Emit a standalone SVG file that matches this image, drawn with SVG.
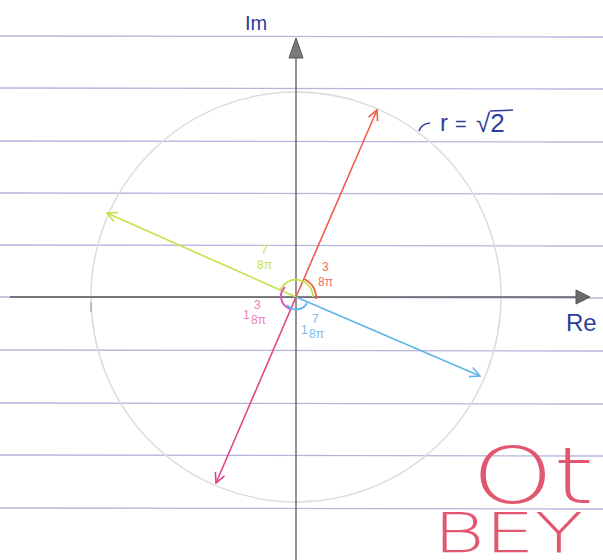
<svg xmlns="http://www.w3.org/2000/svg" width="603" height="560" viewBox="0 0 603 560">
<style>
.rule{stroke:#b3b6dc;stroke-width:1.3}
.axis{stroke:#5a5a5a;stroke-width:1.3;fill:none}
.hand{font-family:"Liberation Sans","DejaVu Sans",sans-serif}
.blue-ink{fill:#2d3f9c}
.lbl{font-family:"Liberation Sans",sans-serif;font-size:12px}
</style>
<defs>
<marker id="mr" viewBox="0 0 12 12" refX="11" refY="6" markerWidth="12" markerHeight="12" markerUnits="userSpaceOnUse" orient="auto"><path d="M1,1 L11,6 L1,11" fill="none" stroke="#f25a4c" stroke-width="1.6"/></marker>
<marker id="mg" viewBox="0 0 12 12" refX="11" refY="6" markerWidth="12" markerHeight="12" markerUnits="userSpaceOnUse" orient="auto"><path d="M1,1 L11,6 L1,11" fill="none" stroke="#c6e24a" stroke-width="1.6"/></marker>
<marker id="mb" viewBox="0 0 12 12" refX="11" refY="6" markerWidth="12" markerHeight="12" markerUnits="userSpaceOnUse" orient="auto"><path d="M1,1 L11,6 L1,11" fill="none" stroke="#5fb4e8" stroke-width="1.6"/></marker>
<marker id="mp" viewBox="0 0 12 12" refX="11" refY="6" markerWidth="12" markerHeight="12" markerUnits="userSpaceOnUse" orient="auto"><path d="M1,1 L11,6 L1,11" fill="none" stroke="#e2448a" stroke-width="1.6"/></marker>
</defs>
<rect width="603" height="560" fill="#ffffff"/>
<g id="ruled-lines">
<line class="rule" x1="0" y1="36" x2="603" y2="37"/>
<line class="rule" x1="0" y1="88" x2="603" y2="89"/>
<line class="rule" x1="0" y1="141" x2="603" y2="142"/>
<line class="rule" x1="0" y1="193" x2="603" y2="194"/>
<line class="rule" x1="0" y1="245" x2="603" y2="246"/>
<line class="rule" x1="0" y1="297" x2="603" y2="298"/>
<line class="rule" x1="0" y1="350" x2="603" y2="351"/>
<line class="rule" x1="0" y1="403" x2="603" y2="404"/>
<line class="rule" x1="0" y1="455" x2="603" y2="456"/>
<line class="rule" x1="0" y1="508" x2="603" y2="509"/>
</g>
<g id="circle">
<circle cx="296" cy="297" r="205" fill="none" stroke="#dcdcdc" stroke-width="1.5"/>
<line x1="91" y1="302" x2="91" y2="312" stroke="#999" stroke-width="1"/>
</g>
<g id="axes">
<line class="axis" x1="10" y1="297" x2="580" y2="297"/>
<path d="M576,290 L590,297 L576,304 Z" fill="#6a6a6a" stroke="#555"/>
<line class="axis" x1="296" y1="55" x2="296" y2="560"/>
<path d="M289,58 L296,38 L303,58 Z" fill="#7a7a7a" stroke="#555"/>
<text class="hand blue-ink" x="245" y="30" font-size="20">Im</text>
<text class="hand blue-ink" x="566" y="331" font-size="24">Re</text>
</g>
<g id="connectors" fill="none" stroke-width="1.6">
<line x1="296" y1="297" x2="377" y2="110" stroke="#f25a4c" marker-end="url(#mr)"/>
<line x1="296" y1="297" x2="107" y2="213" stroke="#c6e24a" marker-end="url(#mg)"/>
<line x1="296" y1="297" x2="480" y2="376" stroke="#5fb4e8" marker-end="url(#mb)"/>
<line x1="296" y1="297" x2="216" y2="483" stroke="#e2448a" marker-end="url(#mp)"/>
</g>
<g id="angle-arcs" fill="none" stroke-width="1.8">
<path d="M316,299 A20,20 0 0 0 304,279" stroke="#f25a4c"/>
<path d="M313,297 A17,17 0 0 0 280,291" stroke="#c6e24a"/>
<path d="M285,287 A13,13 0 0 0 291,309" stroke="#d84fb4"/>
<path d="M287,305 A12,12 0 0 0 307,303" stroke="#5fb4e8"/>
</g>
<g id="label-red">
<text class="lbl" x="322" y="271" fill="#f07060" font-size="10">3</text>
<text class="lbl" x="318" y="286" fill="#f07060">8π</text>
</g>
<g id="label-green">
<text class="lbl" x="261" y="254" fill="#c6e24a" font-size="10">7</text>
<text class="lbl" x="257" y="269" fill="#c6e24a">8π</text>
</g>
<g id="label-pink">
<text class="lbl" x="243" y="319" fill="#ee80b4" font-size="10">1</text>
<text class="lbl" x="254" y="309" fill="#ee80b4" font-size="10">3</text>
<text class="lbl" x="251" y="324" fill="#ee80b4">8π</text>
</g>
<g id="label-blue">
<text class="lbl" x="301" y="334" fill="#7bbce8" font-size="10">1</text>
<text class="lbl" x="312" y="323" fill="#7bbce8" font-size="10">7</text>
<text class="lbl" x="309" y="338" fill="#7bbce8">8π</text>
</g>
<g id="radius-label">
<path d="M419,131 Q421,124 430,123" fill="none" stroke="#2d3f9c" stroke-width="1.6"/>
<text class="hand blue-ink" x="440" y="131" font-size="24">r</text>
<text class="hand blue-ink" x="455" y="131" font-size="20">=</text>
<text class="hand blue-ink" x="476" y="132" font-size="26">√2</text>
<line x1="490" y1="111" x2="513" y2="110" stroke="#2d3f9c" stroke-width="1.5"/>
</g>
<g id="pink-note" fill="#e3566f" font-family="'DejaVu Sans',sans-serif" font-weight="200">
<text x="472" y="503" font-size="78" textLength="122" lengthAdjust="spacingAndGlyphs">Ot</text>
<text x="433" y="552" font-size="56" textLength="150" lengthAdjust="spacingAndGlyphs">BEY</text>
</g>
</svg>
